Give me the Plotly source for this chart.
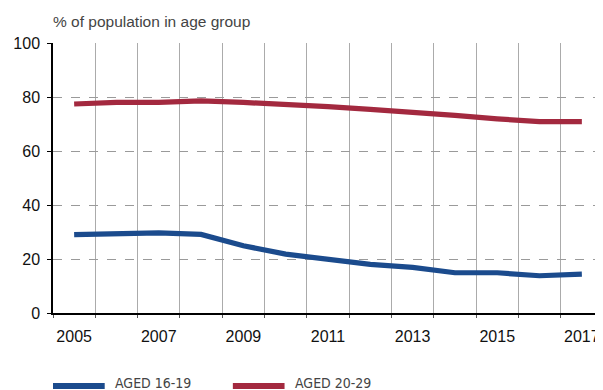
import plotly.graph_objects as go

years = list(range(2005, 2018))
aged_16_19 = [29.0, 29.2, 29.7, 29.1, 24.9, 21.8, 19.9, 18.0, 16.9, 14.9, 14.9, 13.8, 14.4]
aged_20_29 = [77.4, 78.0, 78.0, 78.6, 78.0, 77.3, 76.4, 75.4, 74.5, 73.2, 71.9, 70.9, 70.9]
series_names = ["AGED 16-19", "AGED 20-29"]
series_colors = ["#1b4b8d", "#a3293f"]
tick_years = [2005, 2007, 2009, 2011, 2013, 2015, 2017]
y_ticks = [0, 20, 40, 60, 80, 100]
y_title = "% of population in age group"

font_main = "Liberation Sans, Arial, Helvetica, sans-serif"
font_narrow = "Liberation Sans Narrow, DejaVu Sans Condensed, Arial Narrow, sans-serif"

fig = go.Figure()
for name, vals, col in zip(series_names, [aged_16_19, aged_20_29], series_colors):
    fig.add_trace(go.Scatter(x=years, y=vals, mode="lines", name=name,
                             line=dict(color=col, width=5.2), showlegend=False))

# custom legend (keys + labels) below the plot
legend_x = [0.0, 0.327]
for i, (name, col) in enumerate(zip(series_names, series_colors)):
    x0 = legend_x[i]
    fig.add_shape(type="line", xref="paper", yref="paper",
                  x0=x0, x1=x0 + 0.094, y0=-0.27, y1=-0.27,
                  line=dict(color=col, width=6))
    fig.add_annotation(xref="paper", yref="paper", x=x0 + 0.109, y=-0.222,
                       xanchor="left", yanchor="top", text=name, showarrow=False,
                       font=dict(family=font_narrow, size=14, color="#444444"))

fig.add_annotation(xref="paper", yref="paper", x=-0.003, y=1.04,
                   xanchor="left", yanchor="bottom", text=y_title, showarrow=False,
                   font=dict(family=font_main, size=15.5, color="#444444"))

fig.update_layout(
    width=595, height=382,
    margin=dict(l=45, r=0, t=35, b=77),
    plot_bgcolor="white", paper_bgcolor="white",
    font=dict(family=font_main, size=16, color="#111111"),
    xaxis=dict(range=[2004.5, 2017.5], tickvals=tick_years,
               ticktext=[str(y) for y in tick_years],
               showgrid=False, zeroline=False,
               showline=True, linecolor="#000000", linewidth=1.5,
               ticks="", ticklabelstandoff=8,
               minor=dict(tick0=2004.5, dtick=1, showgrid=True,
                          gridcolor="#ababab", gridwidth=1.2,
                          ticks="outside", ticklen=3, tickcolor="#555555")),
    yaxis=dict(range=[0, 100], tickvals=y_ticks, showgrid=True,
               gridcolor="#9a9a9a", griddash="dash", gridwidth=1,
               zeroline=False, showline=True, linecolor="#000000", linewidth=1.5,
               ticks="outside", ticklen=4, tickcolor="#000000",
               ticklabelstandoff=4),
)

fig.write_html("out.html")
